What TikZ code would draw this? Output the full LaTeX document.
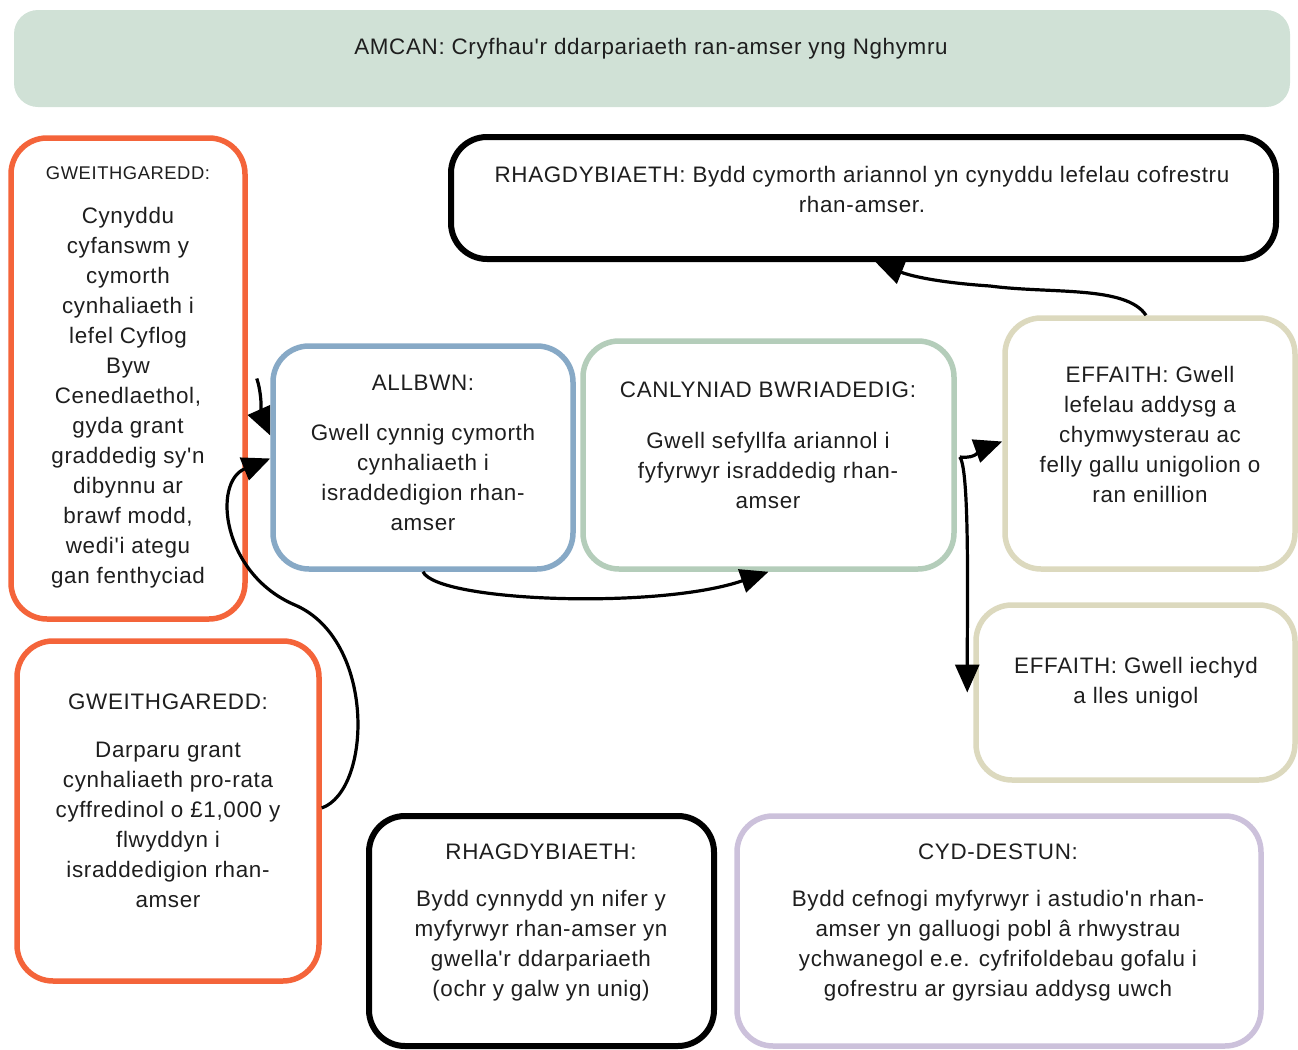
\documentclass[tikz,border=0pt]{standalone}
\usepackage{fontspec}
\newfontfamily\lsans{Liberation Sans}[LetterSpace=3]
\usetikzlibrary{arrows.meta,fit}
\definecolor{cOrange}{HTML}{F4643A}
\definecolor{cBlue}{HTML}{87A9C6}
\definecolor{cGreen}{HTML}{B4CDBA}
\definecolor{cBeige}{HTML}{DCD9BE}
\definecolor{cLav}{HTML}{CCC1DB}
\definecolor{cBanner}{HTML}{D0E1D6}
\definecolor{cText}{HTML}{1E1E1E}
\begin{document}
\begin{tikzpicture}[x=0.5pt,y=-0.5pt,
  box/.style={draw=#1, line width=2.75pt, rounded corners=18pt, inner sep=0pt, fill=white},
  txt/.style={font=\lsans\fontsize{11.2}{15}\selectfont, align=center, inner sep=0pt, text=cText},
  smalltxt/.style={font=\lsans\fontsize{9.2}{12}\selectfont, align=center, inner sep=0pt, text=cText},
  conn/.style={line width=1.6pt, -{Triangle[length=14pt,width=12pt]}}]
\useasboundingbox (0,0) rectangle (1298,1050);
% boxes
\node[fill=cBanner, rounded corners=12pt, inner sep=0pt, fit={(14,10)(1290,107)}] (banner) {};
\node[box=cOrange, fit={(11,138)(245,619)}] (A) {};
\node[box=black, line width=3pt, fit={(451,137)(1276,259)}] (rt) {};
\node[box=cBlue, fit={(273,346)(573,569)}] (allb) {};
\node[box=cGreen, fit={(583,341)(954,569)}] (canl) {};
\node[box=cBeige, fit={(1005,318)(1295,569)}] (eff1) {};
\node[box=cBeige, fit={(976,605)(1295,780)}] (eff2) {};
\node[box=cOrange, fit={(17,641)(319,981)}] (g2) {};
\node[box=black, line width=3pt, fit={(369,816)(714,1046)}] (rb) {};
\node[box=cLav, fit={(737,816)(1261,1046)}] (cyd) {};
% texts
\node[txt] (bannerT) at (651,49) {AMCAN: Cryfhau'r ddarpariaeth ran-amser yng Nghymru};
\node[smalltxt] (AT) at (128,173) {GWEITHGAREDD:};
\node[txt] (AB) at (128,398) {Cynyddu\\cyfanswm y\\cymorth\\cynhaliaeth i\\lefel Cyflog\\Byw\\Cenedlaethol,\\gyda grant\\graddedig sy'n\\dibynnu ar\\brawf modd,\\wedi'i ategu\\gan fenthyciad};
\node[txt] (rtT) at (862,189) {RHAGDYBIAETH: Bydd cymorth ariannol yn cynyddu lefelau cofrestru\\rhan-amser.};
\node[txt] (allbT) at (423,383) {ALLBWN:};
\node[txt] (allbB) at (423,477) {Gwell cynnig cymorth\\cynhaliaeth i\\israddedigion rhan-\\amser};
\node[txt] (canlT) at (768,390) {CANLYNIAD BWRIADEDIG:};
\node[txt] (canlB) at (768,470) {Gwell sefyllfa ariannol i\\fyfyrwyr israddedig rhan-\\amser};
\node[txt] (eff1T) at (1150,434) {EFFAITH: Gwell\\lefelau addysg a\\chymwysterau ac\\felly gallu unigolion o\\ran enillion};
\node[txt] (eff2T) at (1136,683) {EFFAITH: Gwell iechyd\\a lles unigol};
\node[txt] (g2T) at (168,702) {GWEITHGAREDD:};
\node[txt] (g2B) at (168,825) {Darparu grant\\cynhaliaeth pro-rata\\cyffredinol o £1,000 y\\flwyddyn i\\israddedigion rhan-\\amser};
\node[txt] (rbT) at (541,852) {RHAGDYBIAETH:};
\node[txt] (rbB) at (541,946) {Bydd cynnydd yn nifer y\\myfyrwyr rhan-amser yn\\gwella'r ddarpariaeth\\(ochr y galw yn unig)};
\node[txt] (cydT) at (998,852) {CYD-DESTUN:};
\node[txt] (cydB) at (998,946) {Bydd cefnogi myfyrwyr i astudio'n rhan-\\amser yn galluogi pobl â rhwystrau\\ychwanegol e.e. cyfrifoldebau gofalu i\\gofrestru ar gyrsiau addysg uwch};
% connectors
\draw[conn] ([xshift=4.5pt]A.east) .. controls +(5,14) and +(-8,-18) .. ([yshift=11pt]allb.west);
\draw[conn] ([yshift=1.5pt]g2.east) .. controls (372,790) and (376,640) .. (295,605)
  .. controls (222,574) and (212,482) .. ([yshift=-0.5pt]allb.west);
\draw[conn] (allb.south) .. controls +(14,30) and +(-110,38) .. (canl.south);
\draw[conn] ([xshift=1.5pt,yshift=-1pt]canl.east) .. controls +(18,2) and +(-22,8) .. ([yshift=1pt]eff1.west);
\draw[conn] ([xshift=1.5pt,yshift=-1pt]canl.east) .. controls +(10,12) and +(0,-90) .. ([xshift=-3pt]eff2.west);
\draw[conn] ([xshift=-2pt]eff1.north) .. controls +(-20,-30) and +(60,8) .. (990,286)
  .. controls +(-60,-4) and +(30,12) .. ([xshift=6pt]rt.south);
\end{tikzpicture}
\end{document}
